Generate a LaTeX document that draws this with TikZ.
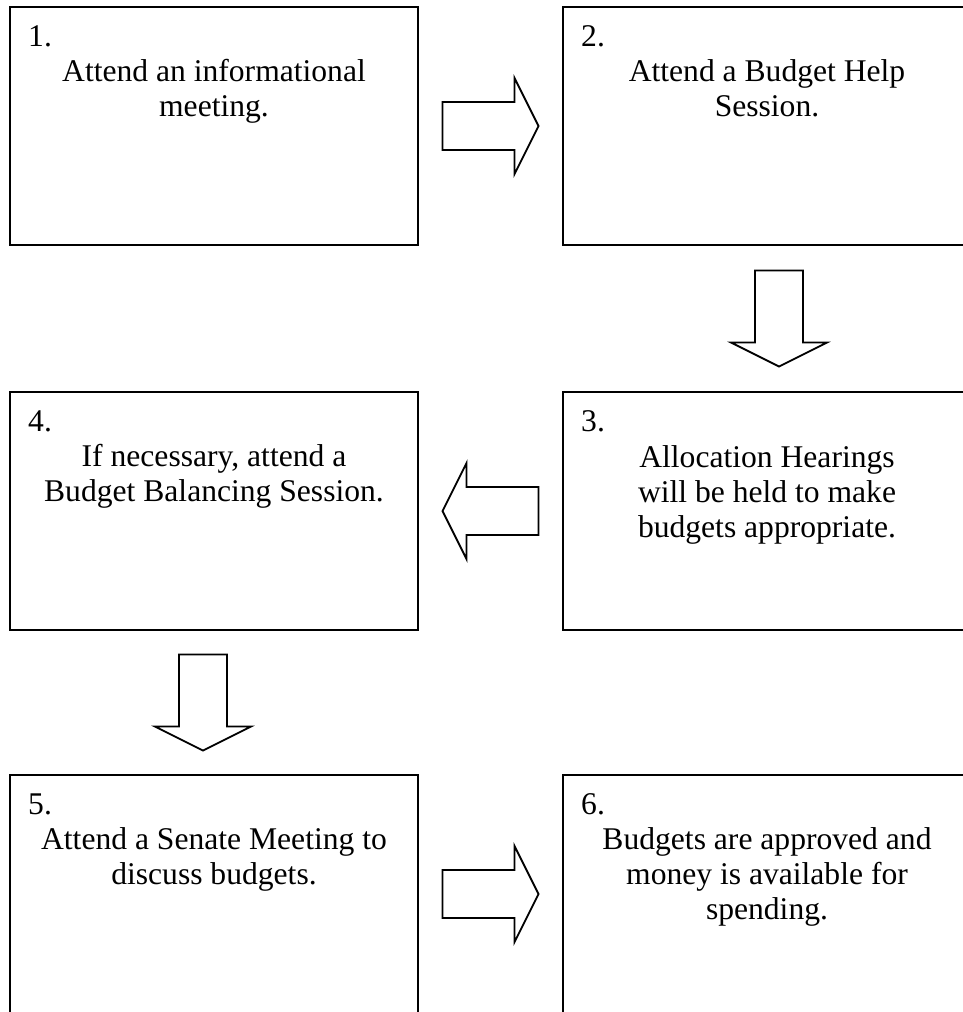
\documentclass[tikz,border=0pt]{standalone}
\usepackage{fontspec}
\setmainfont{Liberation Serif}
\usetikzlibrary{calc}

\begin{document}
\begin{tikzpicture}[x=1pt,y=-1pt]
	\tikzstyle{stepbox}=[draw,rectangle,line width=2pt,minimum width=408pt,minimum height=238pt,inner sep=0pt]
	\tikzstyle{stepnum}=[anchor=base west,inner sep=0pt,font=\fontsize{31.6}{35}\selectfont]
	\tikzstyle{steptext}=[anchor=base,align=center,inner sep=0pt,font=\fontsize{31.6}{35}\selectfont]
	\tikzset{blockarrow/.pic={\draw[line width=1.8pt,line join=miter] (-48,-24) -- (24,-24) -- (24,-48) -- (48,0) -- (24,48) -- (24,24) -- (-48,24) -- cycle;}}
	\useasboundingbox (0,0) rectangle (963,1012);
	\node[stepbox] (b1) at (214,126) {};
	\node[stepbox] (b2) at (767,126) {};
	\node[stepbox] (b3) at (767,511) {};
	\node[stepbox] (b4) at (214,511) {};
	\node[stepbox] (b5) at (214,894) {};
	\node[stepbox] (b6) at (767,894) {};
	\node[stepnum] (n1) at ($(b1.north west)+(19,40)$) {1.};
	\node[stepnum] (n2) at ($(b2.north west)+(19,40)$) {2.};
	\node[stepnum] (n3) at ($(b3.north west)+(19,40)$) {3.};
	\node[stepnum] (n4) at ($(b4.north west)+(19,40)$) {4.};
	\node[stepnum] (n5) at ($(b5.north west)+(19,40)$) {5.};
	\node[stepnum] (n6) at ($(b6.north west)+(19,40)$) {6.};
	\node[steptext] (t1) at ($(b1.north)+(0,110)$) {Attend an informational\\meeting.};
	\node[steptext] (t2) at ($(b2.north)+(0,110)$) {Attend a Budget Help\\Session.};
	\node[steptext] (t3) at ($(b3.north)+(0,146)$) {Allocation Hearings\\will be held to make\\budgets appropriate.};
	\node[steptext] (t4) at ($(b4.north)+(0,110)$) {If necessary, attend a\\Budget Balancing Session.};
	\node[steptext] (t5) at ($(b5.north)+(0,110)$) {Attend a Senate Meeting to\\discuss budgets.};
	\node[steptext] (t6) at ($(b6.north)+(0,145)$) {Budgets are approved and\\money is available for\\spending.};
	\pic at ($(b1.east)!.5!(b2.west)$) {blockarrow};
	\pic[rotate=-90] at ($(b2.south)!.5!(b3.north)+(12,0)$) {blockarrow};
	\pic[rotate=180] at ($(b3.west)!.5!(b4.east)$) {blockarrow};
	\pic[rotate=-90] at ($(b4.south)!.5!(b5.north)+(-11,0)$) {blockarrow};
	\pic at ($(b5.east)!.5!(b6.west)$) {blockarrow};
\end{tikzpicture}
\end{document}
